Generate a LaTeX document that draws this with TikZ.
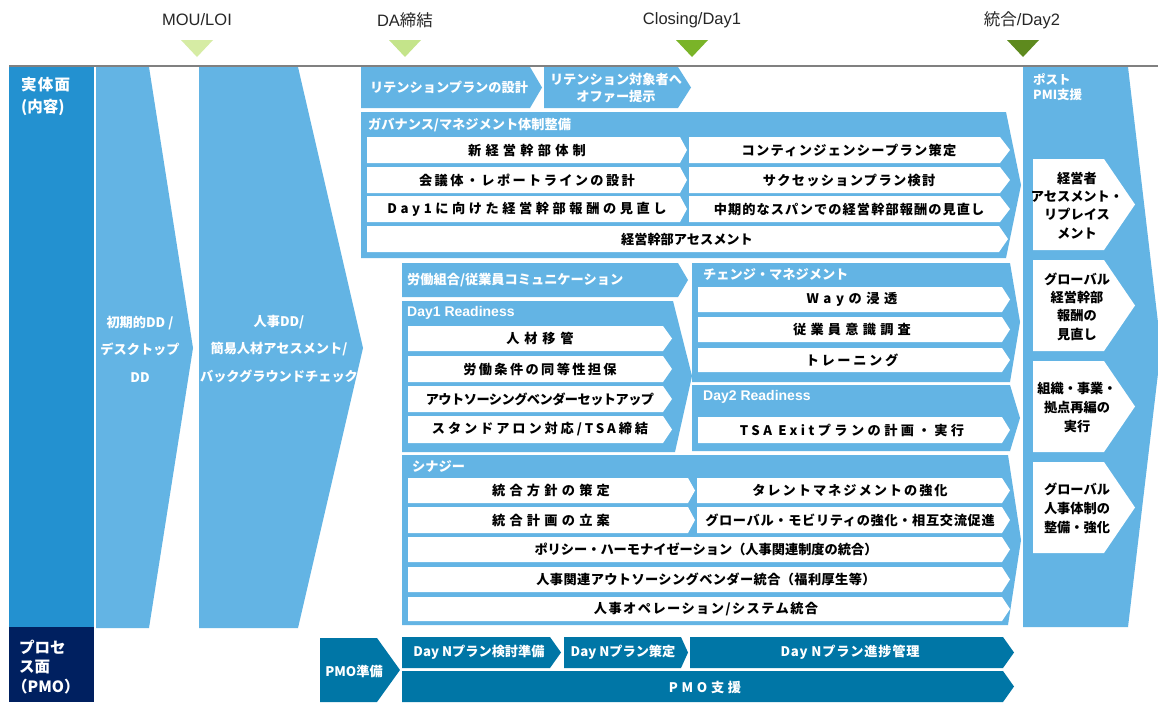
\documentclass[tikz,border=0pt]{standalone}
\usepackage{fontspec}
\setmainfont{Noto Sans CJK JP}
\newfontfamily\lib{Liberation Sans}
\definecolor{lblue}{RGB}{99,180,228}
\definecolor{dblue}{RGB}{35,145,208}
\definecolor{navyb}{RGB}{0,32,96}
\definecolor{tealb}{RGB}{0,118,166}
\definecolor{gA}{RGB}{214,236,164}
\definecolor{gB}{RGB}{196,228,138}
\definecolor{gC}{RGB}{122,180,40}
\definecolor{gD}{RGB}{94,138,30}
\definecolor{lineg}{RGB}{128,128,128}
\newcommand\lsp[1]{\addfontfeature{LetterSpace=#1}}
\newcommand\chevbox[6]{\fill[#1] (#2,#3) -- ({#4-#6},#3) -- (#4,{(#3+#5)/2}) -- ({#4-#6},#5) -- (#2,#5) -- cycle;}
\begin{document}
\begin{tikzpicture}[x=1pt,y=-1pt,
  rt/.style={font=\fontsize{13.2}{16}\selectfont\bfseries, text=black, inner sep=0pt},
  wt/.style={font=\fontsize{13.2}{16}\selectfont\bfseries, text=white, inner sep=0pt},
  wtl/.style={wt, anchor=west},
  toplab/.style={font=\lib\fontsize{16.5}{18}\selectfont, text=black!85, inner sep=0pt},
  lb/.style={fill=lblue},
  wb/.style={fill=white},
  tb/.style={fill=tealb}]
\useasboundingbox (0,0) rectangle (1158,702);
\fill[white] (0,0) rectangle (1158,702);
% milestones
\draw[lineg, line width=1.5pt] (9,66) -- (1158,66);
\fill[gA] (181,40) -- (213,40) -- (197,57) -- cycle;
\fill[gB] (389,40) -- (421,40) -- (405,57) -- cycle;
\fill[gC] (676,40) -- (708,40) -- (692,57) -- cycle;
\fill[gD] (1007,40) -- (1039,40) -- (1023,57) -- cycle;
\node[toplab] (m1) at (197,20) {MOU/LOI};
\node[toplab] (m2) at (405,20) {DA{\rmfamily 締結}};
\node[toplab] (m3) at (692,20) {Closing/Day1};
\node[toplab] (m4) at (1022,20) {{\rmfamily 統合}/Day2};
% left headers
\fill[dblue] (9,67) rectangle (94,627);
\fill[navyb] (9,627) rectangle (94,702);
\node[wtl, font=\fontsize{15.5}{18}\selectfont\bfseries\lsp{8}] (h1) at (21,85) {実体面};
\node[wtl, font=\fontsize{15.5}{18}\selectfont\bfseries] (h2) at (21,107) {(内容)};
\node[wtl, font=\fontsize{15.5}{18}\selectfont\bfseries] (p1) at (19,647) {プロセ};
\node[wtl, font=\fontsize{15.5}{18}\selectfont\bfseries] (p2) at (19,667) {ス面};
\node[wtl, font=\fontsize{15.5}{18}\selectfont\bfseries] (p3) at (12,687) {（PMO）};
% DD columns
\fill[lb] (96,67) -- (149,67) -- (193,348) -- (149,628) -- (96,628) -- cycle;
\fill[lb] (199,67) -- (298,67) -- (363,348) -- (298,628) -- (199,628) -- cycle;
\node[wt, align=center, font=\fontsize{13.2}{27.5}\selectfont\bfseries] (dd1) at (140,349) {初期的DD /\\デスクトップ\\DD};
\node[wt, align=center, font=\fontsize{13.2}{27.5}\selectfont\bfseries] (dd2) at (279,349) {人事DD/\\簡易人材アセスメント/\\バックグラウンドチェック};
% retention
\chevbox{lb}{361}{67}{542}{108}{12}
\chevbox{lb}{544}{67}{691}{108}{13}
\node[wt] (ret1) at (449,87.5) {リテンションプランの設計};
\node[wt, align=center, font=\fontsize{13.2}{17}\selectfont\bfseries] (ret2) at (616,88.5) {リテンション対象者へ\\オファー提示};
% governance
\fill[lb] (361,112) -- (1006,112) -- (1021,185) -- (1006,258) -- (361,258) -- cycle;
\node[wtl] (gov) at (368,125) {ガバナンス/マネジメント体制整備};
\chevbox{wb}{367}{137}{687}{163}{7}
\chevbox{wb}{367}{167}{687}{193}{7}
\chevbox{wb}{367}{196}{687}{222}{7}
\chevbox{wb}{689}{137}{1010}{163}{10}
\chevbox{wb}{689}{167}{1010}{193}{10}
\chevbox{wb}{689}{196}{1010}{222}{10}
\chevbox{wb}{367}{226}{1008}{252}{9}
\node[rt] (g1) at (527,150) {\lsp{32}新経営幹部体制};
\node[rt] (g2) at (527,180) {\lsp{18}会議体・レポートラインの設計};
\node[rt] (g3) at (527,209) {\lsp{27}Day1に向けた経営幹部報酬の見直し};
\node[rt] (g4) at (849,150) {\lsp{10}コンティンジェンシープラン策定};
\node[rt] (g5) at (849,180) {\lsp{10}サクセッションプラン検討};
\node[rt] (g6) at (849,209) {\lsp{8}中期的なスパンでの経営幹部報酬の見直し};
\node[rt] (g7) at (687,239) {経営幹部アセスメント};
% labour union
\chevbox{lb}{402}{263}{688}{297}{10}
\node[wtl] (lu) at (407,280) {労働組合/従業員コミュニケーション};
% Day1 readiness
\fill[lb] (402,301) -- (673,301) -- (692,376) -- (675,452) -- (402,452) -- cycle;
\node[wtl, font=\lib\fontsize{14}{16}\selectfont\bfseries] (d1) at (407,313) {Day1 Readiness};
\chevbox{wb}{408}{326}{672}{351}{9}
\chevbox{wb}{408}{356}{672}{382}{9}
\chevbox{wb}{408}{386}{672}{412}{9}
\chevbox{wb}{408}{416}{672}{443}{9}
\node[rt] (d1a) at (540,338.5) {\lsp{36}人材移管};
\node[rt] (d1b) at (540,369) {\lsp{18}労働条件の同等性担保};
\node[rt] (d1c) at (540,399) {\lsp{-4}アウトソーシングベンダーセットアップ};
\node[rt] (d1d) at (540,429.5) {\lsp{22}スタンドアロン対応/TSA締結};
% change management
\fill[lb] (692,263) -- (1010,263) -- (1020,322) -- (1010,382) -- (692,382) -- cycle;
\node[wtl] (cm) at (703,275) {チェンジ・マネジメント};
\chevbox{wb}{698}{287}{1010}{312}{8}
\chevbox{wb}{698}{317}{1010}{342}{8}
\chevbox{wb}{698}{348}{1010}{372}{8}
\node[rt] (cma) at (852,299.5) {\lsp{35}Wayの浸透};
\node[rt] (cmb) at (852,329.5) {\lsp{32}従業員意識調査};
\node[rt] (cmc) at (852,360) {\lsp{20}トレーニング};
% Day2 readiness
\fill[lb] (692,385) -- (1010,385) -- (1020,418) -- (1010,451) -- (692,451) -- cycle;
\node[wtl, font=\lib\fontsize{14}{16}\selectfont\bfseries] (d2) at (703,397) {Day2 Readiness};
\chevbox{wb}{698}{417}{1010}{443}{8}
\node[rt] (d2a) at (852,430) {\lsp{26}TSA Exitプランの計画・実行};
% synergy
\fill[lb] (402,455) -- (1008,455) -- (1021,540) -- (1008,625) -- (402,625) -- cycle;
\node[wtl] (sy) at (412,466) {シナジー};
\chevbox{wb}{408}{478}{695}{503}{7}
\chevbox{wb}{408}{507}{695}{533}{7}
\chevbox{wb}{697}{478}{1010}{503}{8}
\chevbox{wb}{697}{507}{1010}{533}{8}
\chevbox{wb}{408}{537}{1010}{562}{8}
\chevbox{wb}{408}{567}{1010}{592}{8}
\chevbox{wb}{408}{597}{1010}{621}{8}
\node[rt] (s1) at (551,490.5) {\lsp{32}統合方針の策定};
\node[rt] (s2) at (551,520) {\lsp{32}統合計画の立案};
\node[rt] (s3) at (850,490.5) {\lsp{15}タレントマネジメントの強化};
\node[rt] (s4) at (850,520) {\lsp{5}グローバル・モビリティの強化・相互交流促進};
\node[rt] (s5) at (706,549.5) {ポリシー・ハーモナイゼーション（人事関連制度の統合）};
\node[rt] (s6) at (706,579.5) {\lsp{3}人事関連アウトソーシングベンダー統合（福利厚生等）};
\node[rt] (s7) at (706,609) {\lsp{11}人事オペレーション/システム統合};
% post PMI column
\fill[lb] (1023,67) -- (1128,67) -- (1161,348) -- (1128,627) -- (1023,627) -- cycle;
\node[wt, anchor=north west, align=left, font=\fontsize{12.5}{15}\selectfont\bfseries] (pp) at (1033,73) {ポスト\\PMI支援};
\chevbox{wb}{1033}{159}{1135}{250}{31}
\chevbox{wb}{1033}{260}{1135}{351}{31}
\chevbox{wb}{1033}{361}{1135}{452}{31}
\chevbox{wb}{1033}{462}{1135}{553}{31}
\node[rt, align=center, font=\fontsize{13.2}{18.3}\selectfont\bfseries] (pa) at (1077,205.5) {経営者\\アセスメント・\\リプレイス\\メント};
\node[rt, align=center, font=\fontsize{13.2}{18.3}\selectfont\bfseries] (pb) at (1077,306.5) {グローバル\\経営幹部\\報酬の\\見直し};
\node[rt, align=center, font=\fontsize{13.2}{19}\selectfont\bfseries] (pc) at (1077,407) {組織・事業・\\拠点再編の\\実行};
\node[rt, align=center, font=\fontsize{13.2}{19}\selectfont\bfseries] (pd) at (1077,508) {グローバル\\人事体制の\\整備・強化};
% PMO
\fill[tb] (320,638) -- (377,638) -- (400,670) -- (377,702) -- (320,702) -- cycle;
\node[wt] (pm0) at (354,671) {PMO準備};
\chevbox{tb}{402}{637}{561}{668}{11}
\chevbox{tb}{564}{637}{688}{668}{7}
\chevbox{tb}{690}{637}{1014}{668}{11}
\chevbox{tb}{402}{671}{1014}{702}{11}
\node[wt] (pm1) at (479,652.5) {Day Nプラン検討準備};
\node[wt] (pm2) at (623,652.5) {Day Nプラン策定};
\node[wt] (pm3) at (850,652.5) {\lsp{6}Day Nプラン進捗管理};
\node[wt] (pm4) at (705,687) {\lsp{28}PMO支援};
\end{tikzpicture}
\end{document}
